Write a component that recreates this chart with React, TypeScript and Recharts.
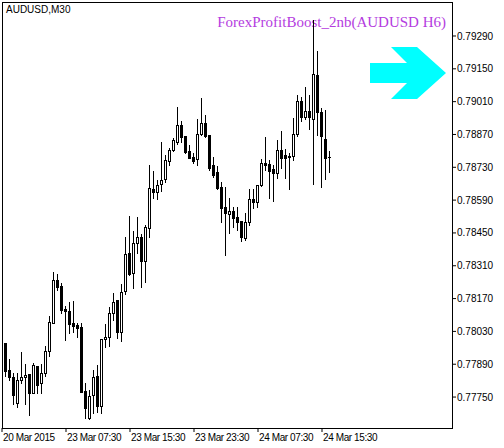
import React from "react";
import { ComposedChart, Bar, XAxis, YAxis, Customized } from "recharts";

// AUDUSD M30 bars, 20 Mar 2015 -> 24 Mar 2015 16:30
const opens = [
  0.7798, 0.77865, 0.77835, 0.77724, 0.77823, 0.77835, 0.77848, 0.77767, 0.77882, 0.7781,
  0.77852, 0.77946, 0.78066, 0.78249, 0.78224, 0.78125, 0.78117, 0.78066, 0.78057, 0.78049,
  0.77776, 0.7766, 0.77759, 0.7784, 0.77712, 0.77997, 0.78006, 0.78108, 0.78164, 0.78027,
  0.78202, 0.78364, 0.78279, 0.78407, 0.78433, 0.7833, 0.78471, 0.78637, 0.78625, 0.78659,
  0.7868, 0.78757, 0.78804, 0.78838, 0.7891, 0.78863, 0.78799, 0.78774, 0.78765, 0.78872,
  0.78919, 0.78868, 0.7874, 0.7871, 0.78646, 0.78561, 0.78531, 0.78543, 0.78518, 0.78501,
  0.78428, 0.78497, 0.78595, 0.78582, 0.78654, 0.78748, 0.78744, 0.78723, 0.78706, 0.78804,
  0.78782, 0.78774, 0.78778, 0.78872, 0.79013, 0.78944, 0.7897, 0.78936, 0.79124, 0.78966,
  0.78851, 0.78774,
];
const highs = [
  0.7798, 0.77912, 0.77852, 0.77852, 0.77942, 0.77891, 0.77848, 0.77895, 0.77882, 0.77891,
  0.77968, 0.78096, 0.78283, 0.78275, 0.78236, 0.78138, 0.78155, 0.7816, 0.78066, 0.78066,
  0.7781, 0.7778, 0.77865, 0.77887, 0.77997, 0.78061, 0.78134, 0.78194, 0.78164, 0.78232,
  0.78433, 0.78522, 0.78458, 0.78518, 0.78445, 0.78484, 0.7874, 0.78714, 0.78676, 0.78838,
  0.78782, 0.78812, 0.78855, 0.78987, 0.78927, 0.78863, 0.78825, 0.78791, 0.78936, 0.79026,
  0.78953, 0.78868, 0.78774, 0.78735, 0.78667, 0.78646, 0.78599, 0.78561, 0.78561, 0.78501,
  0.78535, 0.78637, 0.78637, 0.78654, 0.78765, 0.78859, 0.78761, 0.7874, 0.78846, 0.78885,
  0.78808, 0.78791, 0.7894, 0.79038, 0.7903, 0.79072, 0.79038, 0.79358, 0.79226, 0.78983,
  0.78974, 0.78799,
];
const lows = [
  0.7784, 0.77823, 0.7772, 0.77707, 0.7781, 0.7772, 0.77673, 0.77767, 0.77767, 0.77767,
  0.7784, 0.77925, 0.78066, 0.78206, 0.78108, 0.77993, 0.78023, 0.78027, 0.78006, 0.77771,
  0.7766, 0.77656, 0.77682, 0.77686, 0.77682, 0.77963, 0.77968, 0.78078, 0.78002, 0.77989,
  0.78189, 0.7827, 0.78215, 0.78364, 0.78219, 0.78241, 0.78433, 0.78599, 0.78595, 0.78629,
  0.78667, 0.7874, 0.78799, 0.78829, 0.78838, 0.78791, 0.7877, 0.78748, 0.7874, 0.78868,
  0.78859, 0.78718, 0.78689, 0.78637, 0.78497, 0.78356, 0.7845, 0.78475, 0.78462, 0.78416,
  0.7842, 0.78484, 0.78556, 0.78561, 0.7865, 0.78718, 0.78599, 0.78586, 0.78684, 0.78727,
  0.78684, 0.78637, 0.78761, 0.78863, 0.78927, 0.78936, 0.78893, 0.78659, 0.78868, 0.78646,
  0.7868, 0.7871,
];
const closes = [
  0.77861, 0.77835, 0.77759, 0.77823, 0.77835, 0.77844, 0.77767, 0.77887, 0.77801, 0.77852,
  0.77946, 0.7807, 0.78249, 0.78219, 0.78121, 0.78117, 0.78061, 0.78053, 0.78044, 0.77771,
  0.77703, 0.77754, 0.77835, 0.77712, 0.77997, 0.78006, 0.78108, 0.78155, 0.78027, 0.78198,
  0.7836, 0.78275, 0.78407, 0.78433, 0.7833, 0.78475, 0.78642, 0.78625, 0.78654, 0.78676,
  0.78761, 0.78804, 0.78846, 0.7891, 0.78859, 0.78795, 0.7877, 0.78757, 0.78872, 0.78919,
  0.78863, 0.78727, 0.78697, 0.78642, 0.78556, 0.78535, 0.78543, 0.78514, 0.78497, 0.78433,
  0.78497, 0.78595, 0.78582, 0.78654, 0.78748, 0.7874, 0.78714, 0.78706, 0.78804, 0.7877,
  0.7877, 0.78778, 0.78872, 0.79013, 0.78944, 0.7897, 0.78944, 0.79128, 0.78966, 0.78863,
  0.7877, 0.78774,
];

const priceTicks = [0.7775, 0.7789, 0.7803, 0.7817, 0.7831, 0.7845, 0.7859, 0.7873, 0.7887, 0.7901, 0.7915, 0.7929];
const timeTicks = [0, 16, 32, 48, 64, 80];
const timeLabels = ["20 Mar 2015", "23 Mar 07:30", "23 Mar 15:30", "23 Mar 23:30", "24 Mar 07:30", "24 Mar 15:30"];

const symbolLabel = "AUDUSD,M30";
const indicatorLabel = "ForexProfitBoost_2nb(AUDUSD H6)";

const W = 504;
const H = 448;
const M = { top: 2, left: 2, right: 0, bottom: 0 };
const Y_W = 52;
const X_H = 20;
const PLOT = { x: M.left, y: M.top, w: W - M.left - Y_W, h: H - M.top - X_H };

const data = opens.map((o, k) => ({
  i: k + 1,
  open: o,
  high: highs[k],
  low: lows[k],
  close: closes[k],
  range: [lows[k], highs[k]],
}));

function Candle(props: any) {
  const { x, y, width, height, payload } = props;
  if (x == null || y == null || !payload) return null;
  const top = Math.min(y, y + height);
  const h = Math.abs(height);
  const { open, close, high, low } = payload;
  const toY = (v: number) => top + ((high - v) / (high - low)) * h;
  const cx = Math.round(x + width / 2 - 0.5);
  const yH = Math.round(top);
  const yL = Math.round(top + h);
  const yO = Math.round(toY(open));
  const yC = Math.round(toY(close));
  const bTop = Math.min(yO, yC);
  const bBot = Math.max(yO, yC);
  const bull = close >= open;
  return (
    <g>
      <line x1={cx + 0.5} x2={cx + 0.5} y1={yH} y2={yL + 1} stroke="#000" strokeWidth={1} />
      {bBot - bTop < 1 ? (
        <line x1={cx - 1} x2={cx + 2} y1={bTop + 0.5} y2={bTop + 0.5} stroke="#000" strokeWidth={1} />
      ) : (
        <rect
          x={cx - 0.5}
          y={bTop + 0.5}
          width={2}
          height={bBot - bTop}
          fill={bull ? "#fff" : "#000"}
          stroke="#000"
          strokeWidth={1}
        />
      )}
    </g>
  );
}

function TimeTick(props: any) {
  const { x, y, payload, index } = props;
  return (
    <text
      x={x + 1}
      y={y + 7}
      textAnchor="start"
      fontSize={10}
      letterSpacing={-0.4}
      fontFamily="Liberation Sans, Arial, sans-serif"
      fill="#000"
    >
      {timeLabels[index] ?? String(payload.value)}
    </text>
  );
}

function Overlay() {
  const arrow = [
    [370, 63], [407, 63], [391, 47], [417, 47], [446, 73],
    [417, 99], [391, 99], [407, 83], [370, 83],
  ].map((p) => p.join(",")).join(" ");
  return (
    <g>
      <rect x={PLOT.x + 0.5} y={PLOT.y + 0.5} width={PLOT.w} height={PLOT.h} fill="none" stroke="#000" strokeWidth={1} />
      <text x={6} y={13} fontSize={10} fontFamily="Liberation Sans, Arial, sans-serif" fill="#000">
        {symbolLabel}
      </text>
      <text x={446} y={27} textAnchor="end" fontSize={15} fontFamily="Liberation Serif, Times New Roman, serif" fill="#B43CE0">
        {indicatorLabel}
      </text>
      <polygon points={arrow} fill="#00FFFF" />
    </g>
  );
}

export default function App() {
  return (
    <div style={{ position: "absolute", left: 0, top: 0, width: W, height: H, background: "#fff" }}>
      <ComposedChart width={W} height={H} data={data} margin={M}>
        <XAxis
          type="number"
          dataKey="i"
          domain={[0, 112.5]}
          ticks={timeTicks}
          tick={<TimeTick />}
          tickSize={4}
          tickLine={{ stroke: "#000" }}
          axisLine={false}
          height={X_H}
          interval={0}
          allowDataOverflow
        />
        <YAxis
          orientation="right"
          type="number"
          domain={[0.77618, 0.79435]}
          ticks={priceTicks}
          tickFormatter={(v: number) => v.toFixed(5)}
          tickSize={4}
          tickMargin={1}
          tickLine={{ stroke: "#000" }}
          axisLine={false}
          width={Y_W}
          interval={0}
          allowDataOverflow
          tick={{ fontSize: 10, fill: "#000", fontFamily: "Liberation Sans, Arial, sans-serif" }}
        />
        <Bar dataKey="range" barSize={3} shape={<Candle />} isAnimationActive={false} />
        <Customized component={<Overlay />} />
      </ComposedChart>
    </div>
  );
}
